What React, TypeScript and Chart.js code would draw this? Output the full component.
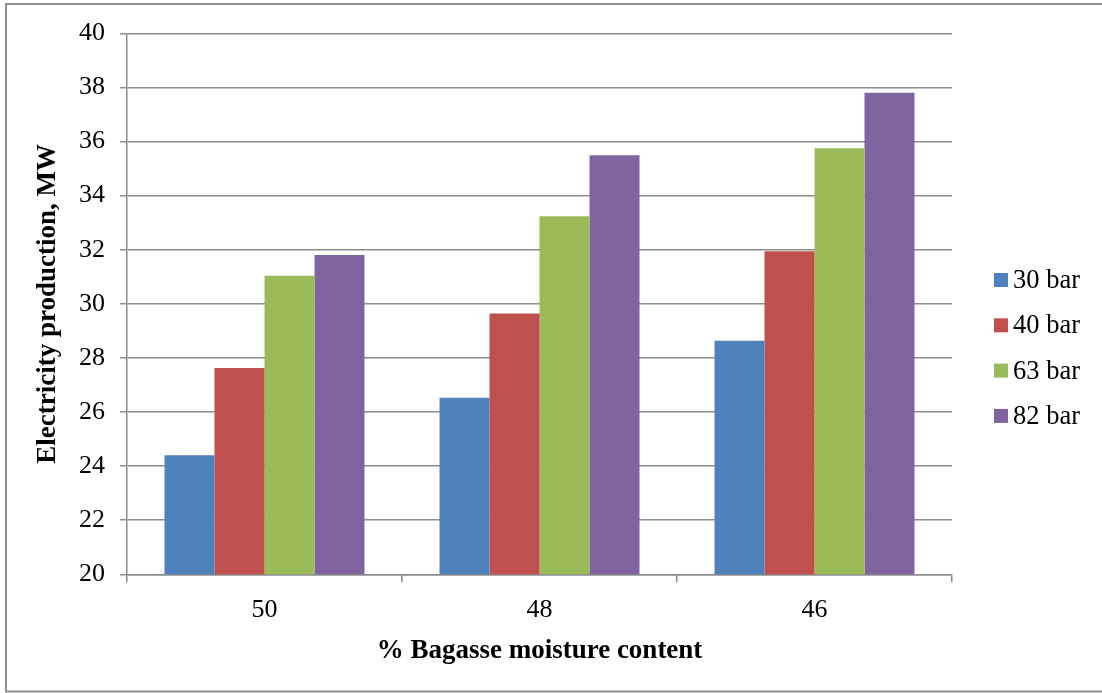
import React, { useEffect, useRef } from "react";
import { Chart, registerables } from "chart.js";

Chart.register(...registerables);

// Moisture content categories (x axis)
const moistureLabels = ["50", "48", "46"];

// Electricity production (MW) per boiler pressure
const bar30 = [24.4, 26.53, 28.63];
const bar40 = [27.63, 29.64, 31.94];
const bar63 = [31.04, 33.24, 35.75];
const bar82 = [31.8, 35.49, 37.8];

const seriesNames = ["30 bar", "40 bar", "63 bar", "82 bar"];
const seriesColors = ["#4F81BD", "#C0504D", "#9BBB59", "#8064A2"];

const yMin = 20;
const yMax = 40;
const yStep = 2;

const FONT = '"Liberation Serif", "Times New Roman", serif';
const GRID = "#8c8c8c";

// Thin grey frame around the whole figure
const framePlugin = {
  id: "frame",
  beforeDraw(chart: any) {
    const { ctx } = chart;
    ctx.save();
    ctx.strokeStyle = "#8f8f8f";
    ctx.lineWidth = 2;
    ctx.beginPath();
    ctx.moveTo(6, 691.5);
    ctx.lineTo(6, 4);
    ctx.lineTo(1110, 4);
    ctx.moveTo(5, 691.5);
    ctx.lineTo(1110, 691.5);
    ctx.stroke();
    ctx.restore();
  },
};

// Compact legend: small square swatch followed closely by the series name
const sideLegendPlugin = {
  id: "sideLegend",
  afterDraw(chart: any) {
    const { ctx } = chart;
    const datasets = chart.data.datasets;
    const x0 = 994;
    const y0 = 280;
    const step = 45.3;
    ctx.save();
    ctx.font = `26.5px ${FONT}`;
    ctx.textBaseline = "middle";
    ctx.textAlign = "left";
    datasets.forEach((ds: any, i: number) => {
      const cy = y0 + i * step;
      ctx.fillStyle = ds.backgroundColor;
      ctx.fillRect(x0, cy - 7, 14, 14);
      ctx.fillStyle = "#000";
      ctx.fillText(ds.label, x0 + 19, cy + 1);
    });
    ctx.restore();
  },
};

export default function App() {
  const canvasRef = useRef<HTMLCanvasElement | null>(null);

  useEffect(() => {
    if (!canvasRef.current) return;
    const values = [bar30, bar40, bar63, bar82];
    const chart = new Chart(canvasRef.current, {
      type: "bar",
      data: {
        labels: moistureLabels,
        datasets: values.map((v, i) => ({
          label: seriesNames[i],
          data: v,
          backgroundColor: seriesColors[i],
          borderWidth: 0,
          barPercentage: 1,
          categoryPercentage: 200 / 275,
        })),
      },
      options: {
        responsive: false,
        animation: false,
        devicePixelRatio: 1,
        layout: { padding: { top: 33.3, right: 150, left: 0, bottom: 0 } },
        plugins: {
          legend: { display: false },
          tooltip: { enabled: false },
        },
        scales: {
          x: {
            grid: {
              display: true,
              drawOnChartArea: false,
              drawTicks: true,
              tickLength: 8,
              color: GRID,
              lineWidth: 1.5,
            },
            border: { display: true, color: GRID, width: 1.5 },
            ticks: {
              color: "#000",
              font: { family: FONT, size: 26 },
              padding: 12,
            },
            title: {
              display: true,
              text: "% Bagasse moisture content",
              color: "#000",
              font: { family: FONT, size: 27, weight: "bold" },
              padding: { top: 0, bottom: 26 },
            },
            afterFit(scale: any) {
              scale.height = 118.7;
            },
          },
          y: {
            min: yMin,
            max: yMax,
            grid: {
              color: GRID,
              lineWidth: 1.5,
              tickLength: 7,
            },
            border: { display: true, color: GRID, width: 1.5 },
            ticks: {
              stepSize: yStep,
              color: "#000",
              font: { family: FONT, size: 26 },
              padding: 15,
            },
            title: {
              display: true,
              text: "Electricity production, MW",
              color: "#000",
              font: { family: FONT, size: 27, weight: "bold" },
              padding: { top: 32, bottom: 0 },
            },
            afterFit(scale: any) {
              scale.width = 127;
            },
          },
        },
      },
      plugins: [framePlugin, sideLegendPlugin],
    });
    return () => chart.destroy();
  }, []);

  return (
    <div style={{ position: "fixed", left: 0, top: 0, width: 1102, height: 693, background: "#fff" }}>
      <canvas ref={canvasRef} width={1102} height={693} style={{ display: "block" }} />
    </div>
  );
}
